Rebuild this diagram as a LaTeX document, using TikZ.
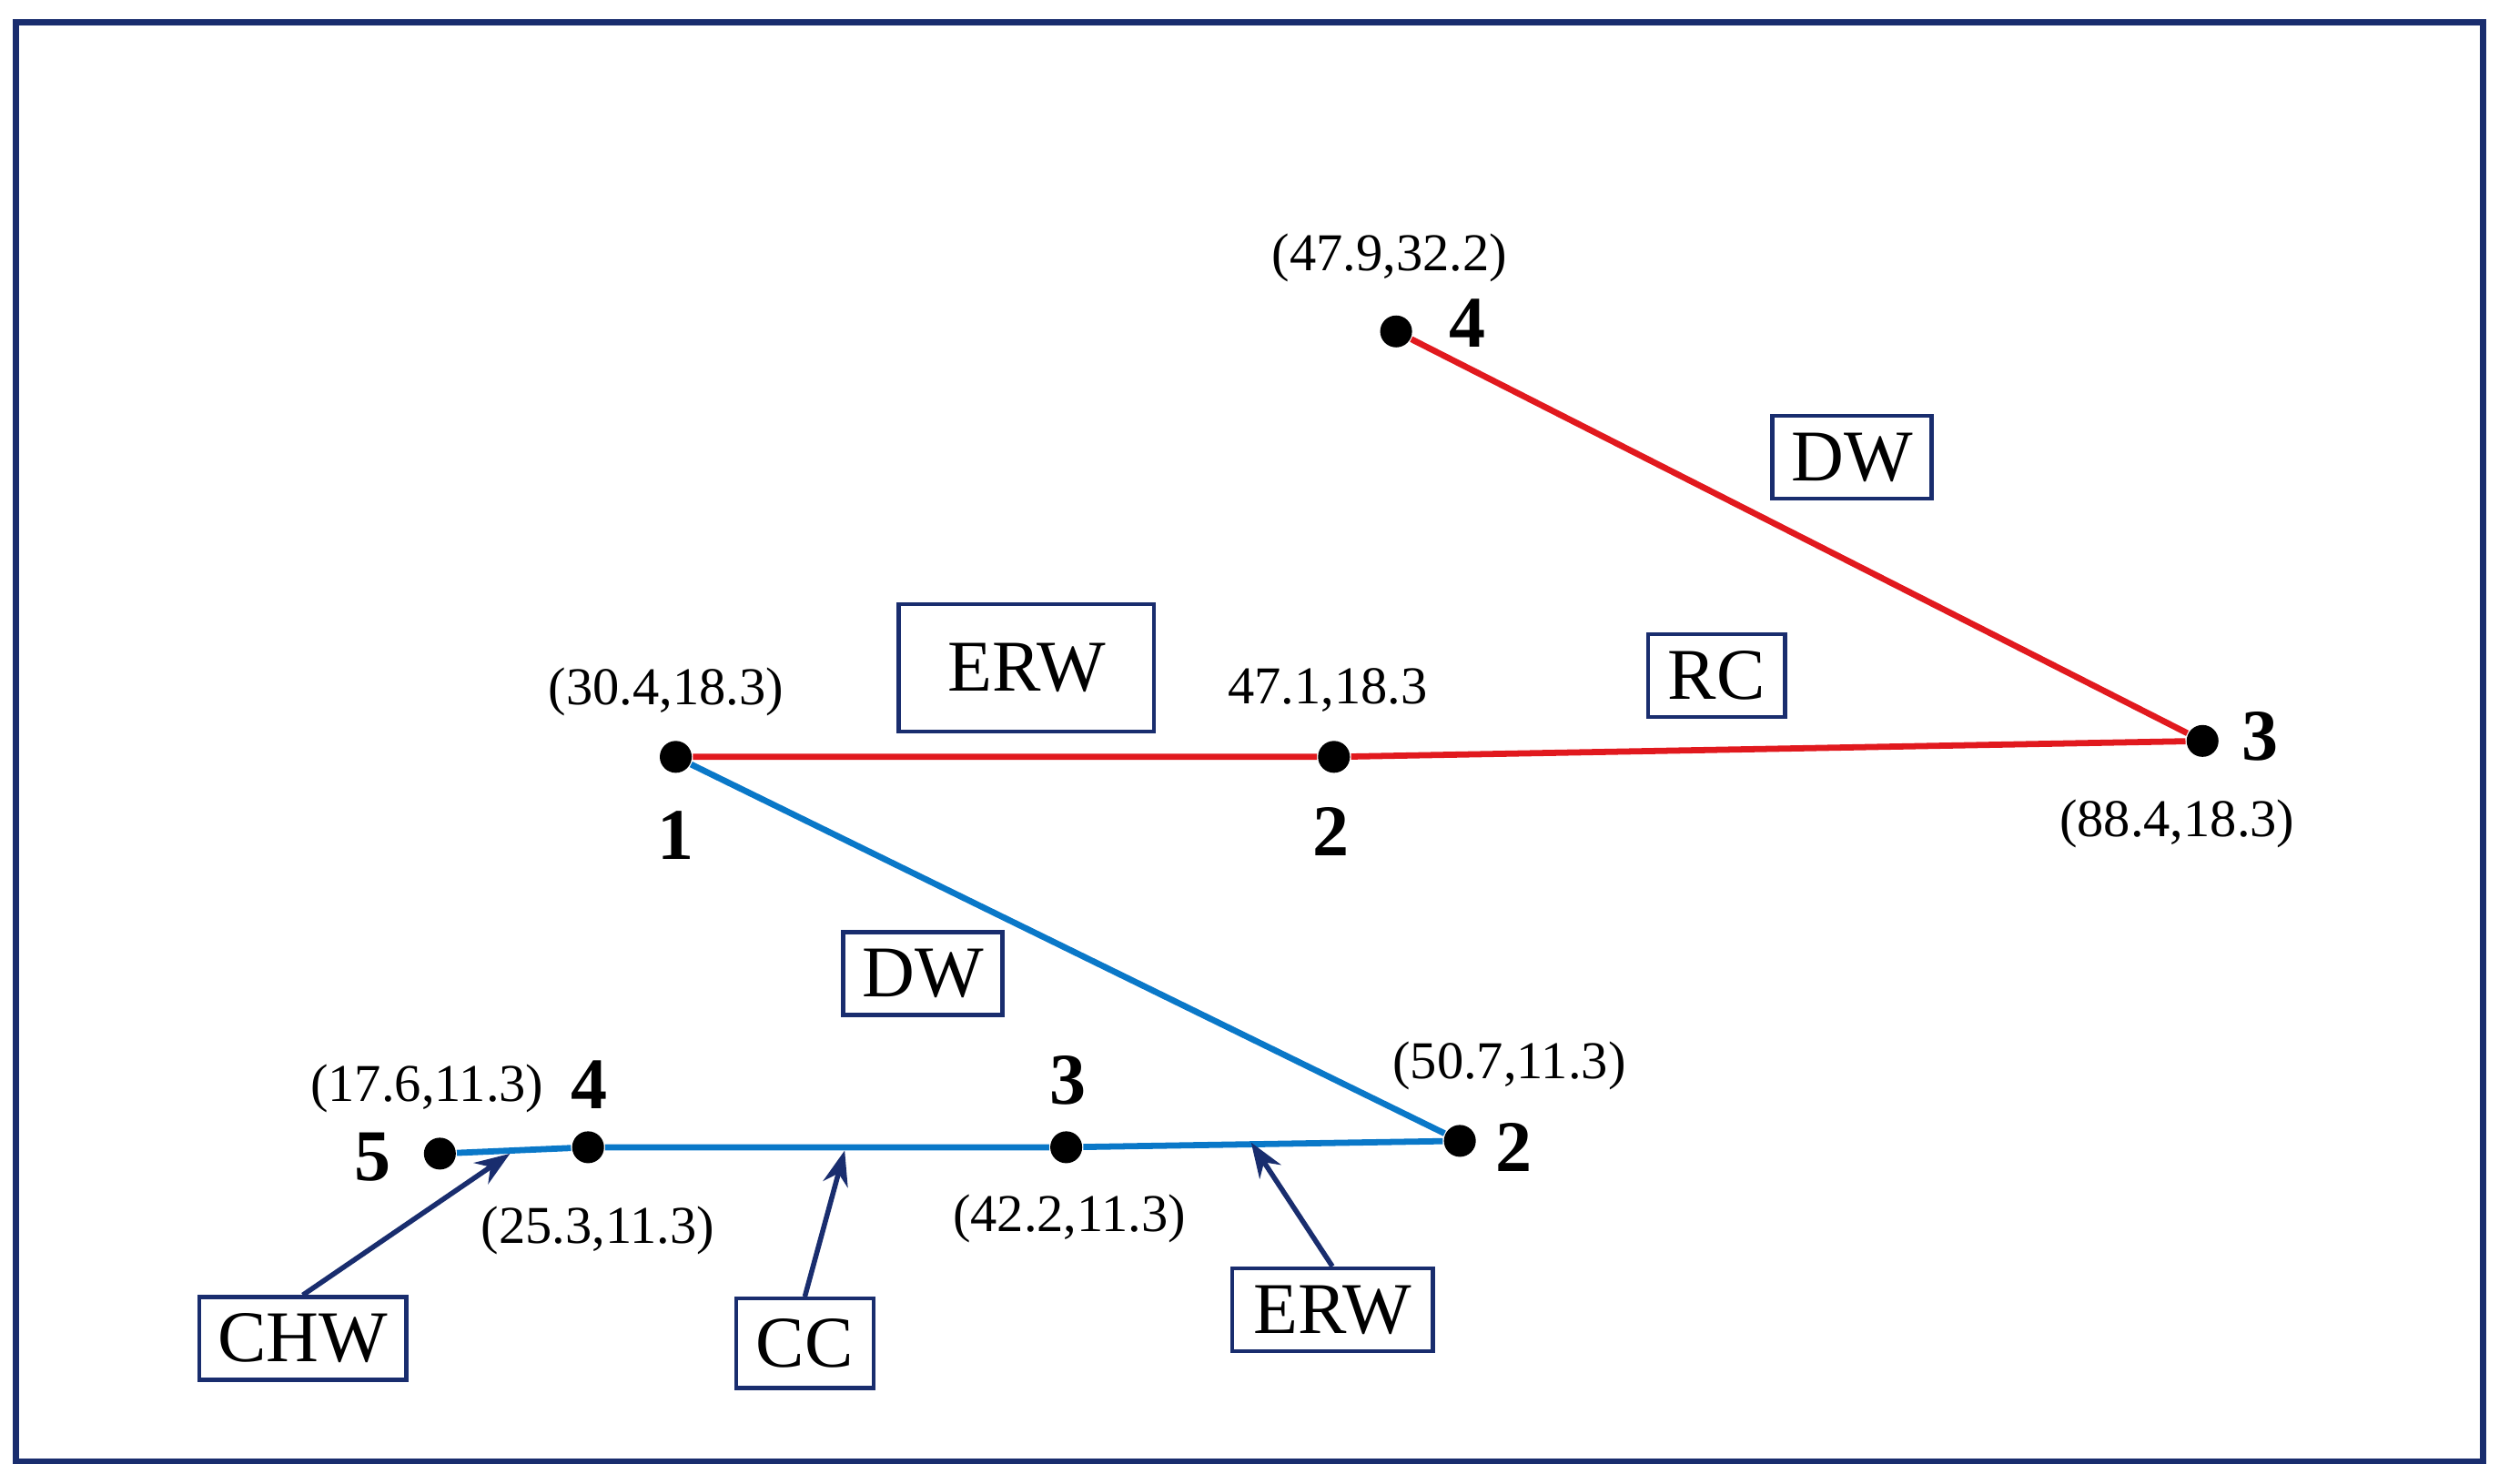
\documentclass[tikz,border=0pt]{standalone}
\usepackage{fontspec}
\setmainfont{Liberation Serif}
\usetikzlibrary{arrows.meta}
\definecolor{navy}{RGB}{25,45,110}
\definecolor{rline}{RGB}{225,25,30}
\definecolor{bline}{RGB}{10,120,200}
\begin{document}
\begin{tikzpicture}[x=0.01cm,y=-0.01cm,
  dot/.style={circle,fill=black,inner sep=0pt,minimum size=0.2cm},
  box/.style={draw=navy,line width=0.7pt,inner sep=0pt,font=\fontsize{13}{13}\selectfont},
  lab/.style={font=\fontsize{9.5}{10}\selectfont,inner sep=0pt},
  num/.style={font=\fontsize{13}{13}\selectfont\bfseries,inner sep=0pt},
  rl/.style={rline,line width=1.1pt},
  bl/.style={bline,line width=1.1pt},
  arr/.style={navy,line width=0.9pt,-{Stealth[length=0.22cm,width=0.16cm]}}]
\useasboundingbox (0,0) rectangle (1568,931);
\draw[navy,line width=1pt] (10,14) rectangle (1558,917);
% nodes
\node[dot] (r1) at (424,475) {};
\node[dot] (r2) at (837,475) {};
\node[dot] (r3) at (1382,465) {};
\node[dot] (r4) at (876,208) {};
\node[dot] (b2) at (916,716) {};
\node[dot] (b3) at (669,720) {};
\node[dot] (b4) at (369,720) {};
\node[dot] (b5) at (276,724) {};
% lines
\draw[bl] (r1) -- (b2);
\draw[bl] (b5) -- (b4) -- (b3) -- (b2);
\draw[rl] (r1) -- (r2) -- (r3) -- (r4);
% red labels
\node[lab] (t1) at (872,162) {(47.9,32.2)};
\node[num] (n4) at (921,203) {4};
\node[box,minimum width=1.0cm,minimum height=0.52cm] (dw1) at (1162,287) {DW};
\node[box,minimum width=1.6cm,minimum height=0.8cm] (erw1) at (644,419) {ERW};
\node[box,minimum width=0.86cm,minimum height=0.52cm] (rc) at (1077,424) {RC};
\node[lab] (t2) at (418,434) {(30.4,18.3)};
\node[lab] (t3) at (833,433) {47.1,18.3};
\node[num] (n3) at (1418,462) {3};
\node[lab] (t4) at (1366,517) {(88.4,18.3)};
\node[num] (n1) at (424,524) {1};
\node[num] (n2) at (835,522) {2};
% blue labels
\node[box,minimum width=1.0cm,minimum height=0.52cm] (dw2) at (579,611) {DW};
\node[lab] (t5) at (947,669) {(50.7,11.3)};
\node[num] (m2) at (950,720) {2};
\node[num] (m3) at (670,678) {3};
\node[lab] (t6) at (268,683) {(17.6,11.3)};
\node[num] (m4) at (370,681) {4};
\node[num] (m5) at (234,726) {5};
\node[lab] (t7) at (375,772) {(25.3,11.3)};
\node[lab] (t8) at (671,765) {(42.2,11.3)};
\node[box,minimum width=1.3cm,minimum height=0.52cm] (chw) at (190,840) {CHW};
\node[box,minimum width=0.86cm,minimum height=0.56cm] (cc) at (505,843) {CC};
\node[box,minimum width=1.26cm,minimum height=0.52cm] (erw2) at (836,822) {ERW};
\coordinate (a1) at (320,724);
\coordinate (a2) at (530,722);
\coordinate (a3) at (785,717);
\draw[arr] (chw.north) -- (a1);
\draw[arr] (cc.north) -- (a2);
\draw[arr] (erw2.north) -- (a3);
\end{tikzpicture}
\end{document}
